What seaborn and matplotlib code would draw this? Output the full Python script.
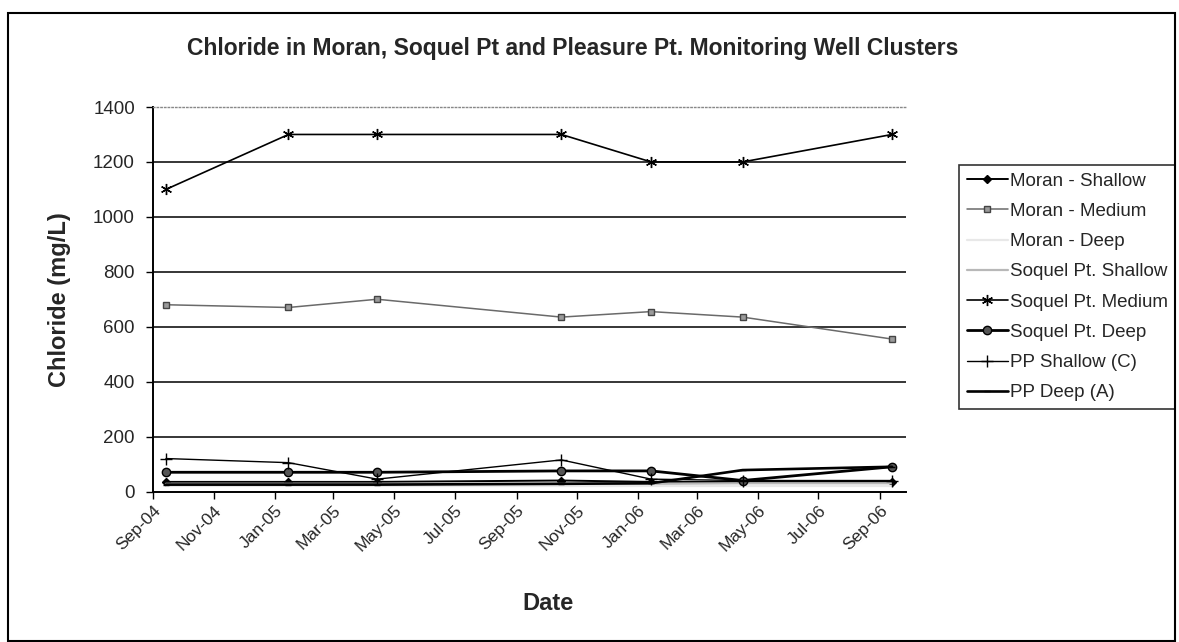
import matplotlib
matplotlib.use("Agg")
import matplotlib.pyplot as plt
import matplotlib.dates as mdates
import seaborn as sns
import pandas as pd
from matplotlib.patches import Rectangle

# Sampling dates shared by all well clusters
dates = pd.to_datetime([
    "2004-09-14", "2005-01-15", "2005-04-14", "2005-10-16",
    "2006-01-14", "2006-04-16", "2006-09-13",
])

# Chloride concentrations (mg/L)
moran_shallow = [35, 35, 35, 40, 35, 35, 35]
moran_medium = [680, 670, 700, 635, 655, 635, 555]
moran_deep = [20, 20, 20, 20, 20, 20, 20]
soquel_shallow = [28, 28, 28, 28, 28, 30, 30]
soquel_medium = [1100, 1300, 1300, 1300, 1200, 1200, 1300]
soquel_deep = [70, 70, 70, 75, 75, 40, 90]
pp_shallow = [120, 105, 45, 115, 45, 40, 40]
pp_deep = [25, 25, 25, 28, 30, 78, 90]

series_names = [
    "Moran - Shallow", "Moran - Medium", "Moran - Deep", "Soquel Pt. Shallow",
    "Soquel Pt. Medium", "Soquel Pt. Deep", "PP Shallow (C)", "PP Deep (A)",
]
series_values = [
    moran_shallow, moran_medium, moran_deep, soquel_shallow,
    soquel_medium, soquel_deep, pp_shallow, pp_deep,
]

styles = {
    "Moran - Shallow": dict(color="black", lw=1.4, marker="D", ms=4, mfc="black", mec="black"),
    "Moran - Medium": dict(color="#6a6a6a", lw=1.1, marker="s", ms=5, mfc="#9a9a9a", mec="#444444"),
    "Moran - Deep": dict(color="#e8e8e8", lw=1.6, marker=None, ms=0, mfc="none", mec="none"),
    "Soquel Pt. Shallow": dict(color="#b8b8b8", lw=1.6, marker=None, ms=0, mfc="none", mec="none"),
    "Soquel Pt. Medium": dict(color="black", lw=1.2, marker=(6, 2, 0), ms=8, mfc="black", mec="black"),
    "Soquel Pt. Deep": dict(color="black", lw=2.0, marker="o", ms=6, mfc="#555555", mec="black"),
    "PP Shallow (C)": dict(color="black", lw=1.0, marker="+", ms=8, mfc="black", mec="black"),
    "PP Deep (A)": dict(color="black", lw=1.9, marker="_", ms=5, mfc="black", mec="black"),
}

sns.set_theme(style="white")
plt.rcParams["font.family"] = ["Liberation Sans", "DejaVu Sans"]

W, H = 1179, 642
fig = plt.figure(figsize=(W / 100, H / 100), dpi=100)
ax = fig.add_axes([153 / W, 1 - 491.5 / H, (906 - 153) / W, (491.5 - 107) / H])

for name, vals in zip(series_names, series_values):
    st = styles[name]
    df = pd.DataFrame({"Date": dates, "Chloride": vals})
    sns.lineplot(
        data=df, x="Date", y="Chloride", ax=ax, label=name,
        color=st["color"], linewidth=st["lw"], marker=st["marker"],
        markersize=st["ms"], markerfacecolor=st["mfc"], markeredgecolor=st["mec"],
        markeredgewidth=1.0,
    )

# Axes limits and ticks
ax.set_ylim(0, 1400)
ax.set_yticks(range(0, 1401, 200))
ax.set_xlim(pd.Timestamp("2004-09-01"), pd.Timestamp("2006-09-27"))
ax.xaxis.set_major_locator(mdates.MonthLocator(bymonth=[1, 3, 5, 7, 9, 11]))
ax.xaxis.set_major_formatter(mdates.DateFormatter("%b-%y"))

for y in range(200, 1400, 200):
    ax.axhline(y, color="black", lw=1.1, zorder=0)

ax.spines["right"].set_visible(False)
ax.spines["top"].set_color("#888888")
ax.spines["top"].set_linestyle(":")
ax.spines["top"].set_linewidth(1.0)
for side in ["left", "bottom"]:
    ax.spines[side].set_color("black")
    ax.spines[side].set_linewidth(1.4)

ax.tick_params(axis="both", which="major", direction="out", length=5, width=1,
               color="black", bottom=True, left=True)
ax.tick_params(axis="y", labelsize=13.5, pad=8)
ax.tick_params(axis="x", labelsize=12.5, pad=3)
for lbl in ax.get_xticklabels():
    lbl.set_rotation(45)
    lbl.set_ha("right")
    lbl.set_rotation_mode("anchor")

ax.set_xlabel("")
ax.set_ylabel("Chloride (mg/L)", fontsize=17, fontweight="bold", labelpad=16)
fig.text(548 / W, 1 - 603 / H, "Date", ha="center", va="center",
         fontsize=17, fontweight="bold")
fig.text(573 / W, 1 - 48 / H,
         "Chloride in Moran, Soquel Pt and Pleasure Pt. Monitoring Well Clusters",
         ha="center", va="center", fontsize=16.5, fontweight="bold")

leg = ax.legend(loc="upper left", bbox_to_anchor=(959 / W, 1 - 165 / H),
                bbox_transform=fig.transFigure, frameon=True, fontsize=13.5,
                handlelength=2.2, handletextpad=0.1, labelspacing=0.7,
                borderpad=0.4, borderaxespad=0, fancybox=False)
leg.get_frame().set_edgecolor("black")
leg.get_frame().set_linewidth(1.2)

# Outer chart frame
fig.patches.append(Rectangle((8 / W, 0.002), (1175 - 8) / W, (640 - 12) / H,
                             transform=fig.transFigure, fill=False,
                             edgecolor="black", linewidth=1.5))

fig.savefig("out.png", dpi=100)
